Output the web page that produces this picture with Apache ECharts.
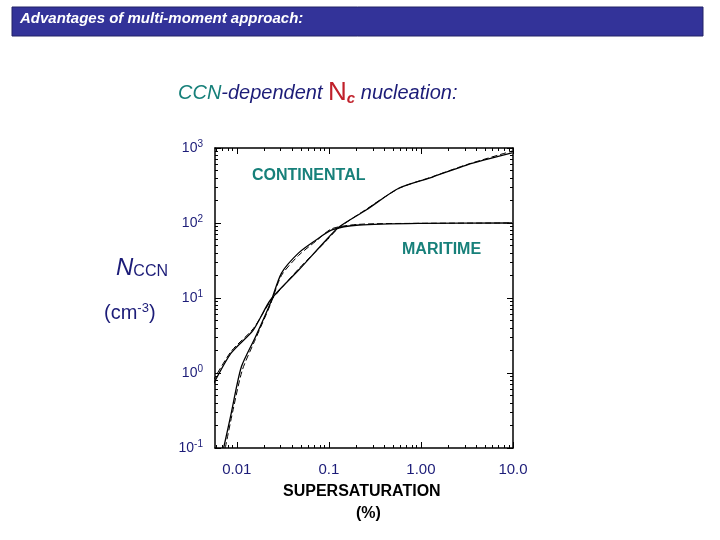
<!DOCTYPE html>
<html>
<head>
<meta charset="UTF-8">
<script src="https://cdn.jsdelivr.net/npm/echarts@6/dist/echarts.min.js"></script>
<style>
  body { margin: 0; background: #fff; }
  #chart { width: 720px; height: 540px; }
</style>
</head>
<body>
<div id="chart"></div>
<script>
  // supersaturation (%) vs N_CCN (cm^-3)
  const xTicks = [0.01, 0.1, 1, 10];
  const xTickLabels = ['0.01', '0.1', '1.00', '10.0'];
  const yTicks = [0.1, 1, 10, 100, 1000];
  const yTickExp = ['-1', '0', '1', '2', '3'];

  const continental = [[0.0055, 0.69], [0.0087, 1.85], [0.0151, 3.74], [0.0232, 9.4], [0.047, 23.6], [0.093, 59], [0.128, 88], [0.254, 149], [0.58, 293], [1.34, 410], [3.14, 593], [9.75, 858]];
  const continentalFit = [[0.0055, 0.78], [0.0087, 1.95], [0.0151, 3.9], [0.0232, 9.0], [0.047, 24.5], [0.093, 57], [0.128, 86], [0.254, 152], [0.58, 290], [1.34, 415], [3.14, 600], [9.75, 910]];
  const maritime = [[0.0072, 0.1], [0.0087, 0.29], [0.0112, 1.2], [0.0159, 3.0], [0.0232, 8.6], [0.0306, 21.5], [0.047, 40], [0.072, 59], [0.108, 81], [0.213, 94], [1, 99], [9.75, 100]];
  const maritimeFit = [[0.0075, 0.1], [0.009, 0.3], [0.0115, 1.1], [0.0159, 2.8], [0.0232, 8.2], [0.0306, 20], [0.047, 37], [0.072, 57], [0.108, 84], [0.213, 96], [1, 99], [9.75, 100]];

  const navy = '#1c1c78';
  const teal = '#17807a';

  const chart = echarts.init(document.getElementById('chart'));

  const axisCommon = {
    type: 'log',
    logBase: 10,
    axisLine: { show: true, lineStyle: { color: '#000', width: 1.5 } },
    axisTick: { show: true, inside: true, length: 6, lineStyle: { color: '#000' } },
    minorTick: { show: true, splitNumber: 9, length: 3, lineStyle: { color: '#000' } },
    splitLine: { show: false }
  };

  chart.setOption({
    animation: false,
    grid: { left: 215, right: 207, top: 148, bottom: 92 },
    xAxis: [
      Object.assign({}, axisCommon, {
        min: 0.0058, max: 10, position: 'bottom',
        axisTick: Object.assign({}, axisCommon.axisTick, { customValues: xTicks }),
        axisLabel: {
          customValues: xTicks, margin: 14, color: navy, fontSize: 15,
          fontFamily: 'Liberation Sans, Arial',
          formatter: v => xTickLabels[xTicks.findIndex(t => Math.abs(Math.log10(t) - Math.log10(v)) < 0.01)] || ''
        }
      }),
      Object.assign({}, axisCommon, {
        min: 0.0058, max: 10, position: 'top',
        axisTick: Object.assign({}, axisCommon.axisTick, { customValues: xTicks }),
        axisLabel: { show: false }
      })
    ],
    yAxis: [
      Object.assign({}, axisCommon, {
        min: 0.1, max: 1000, position: 'left',
        axisLabel: {
          customValues: yTicks, margin: 12, color: navy, fontSize: 14,
          fontFamily: 'Liberation Sans, Arial',
          formatter: v => '10{s|' + yTickExp[yTicks.findIndex(t => Math.abs(Math.log10(t) - Math.log10(v)) < 0.01)] + '}',
          rich: { s: { fontSize: 10, verticalAlign: 'top', padding: [0, 0, 8, 0], color: navy } }
        }
      }),
      Object.assign({}, axisCommon, {
        min: 0.1, max: 1000, position: 'right',
        axisLabel: { show: false }
      })
    ],
    series: [
      { type: 'line', data: continental, smooth: 0.25, showSymbol: false, lineStyle: { color: '#000', width: 1.3 } },
      { type: 'line', data: continentalFit, smooth: 0.25, showSymbol: false, lineStyle: { color: '#000', width: 1, type: [6, 3] } },
      { type: 'line', data: maritime, smooth: 0.25, showSymbol: false, lineStyle: { color: '#000', width: 1.3 } },
      { type: 'line', data: maritimeFit, smooth: 0.25, showSymbol: false, lineStyle: { color: '#000', width: 1, type: [6, 3] } }
    ],
    graphic: [
      { type: 'rect', shape: { x: 12, y: 7, width: 691, height: 29 }, style: { fill: '#333399', stroke: '#222266' } },
      { type: 'text', left: 20, top: 11, style: { text: 'Advantages of multi-moment approach:', fill: '#fff', font: 'italic bold 15px Liberation Sans, Arial' } },
      {
        type: 'text', left: 178, top: 80,
        style: {
          text: '{t|CCN}{b|-dependent }{n|N}{c|c}{b| nucleation:}',
          rich: {
            t: { fill: teal, font: 'italic 20px Liberation Sans, Arial' },
            b: { fill: navy, font: 'italic 20px Liberation Sans, Arial' },
            n: { fill: '#c0202a', font: '26px Liberation Sans, Arial' },
            c: { fill: '#c0202a', font: 'italic bold 15px Liberation Sans, Arial', padding: [12, 0, 0, 0] }
          }
        }
      },
      { type: 'text', left: 252, top: 168, style: { text: 'CONTINENTAL', fill: teal, font: 'bold 16px Liberation Sans, Arial' } },
      { type: 'text', left: 402, top: 242, style: { text: 'MARITIME', fill: teal, font: 'bold 16px Liberation Sans, Arial' } },
      {
        type: 'text', left: 116, top: 256,
        style: {
          text: '{n|N}{s|CCN}',
          rich: {
            n: { fill: navy, font: 'italic 24px Liberation Sans, Arial' },
            s: { fill: navy, font: '16px Liberation Sans, Arial', padding: [8, 0, 0, 0] }
          }
        }
      },
      {
        type: 'text', left: 104, top: 302,
        style: {
          text: '(cm{s|-3})',
          fill: navy, font: '20px Liberation Sans, Arial',
          rich: { s: { fill: navy, font: '13px Liberation Sans, Arial', padding: [0, 0, 10, 0] } }
        }
      },
      { type: 'text', left: 283, top: 484, style: { text: 'SUPERSATURATION', fill: '#000', font: 'bold 16px Liberation Sans, Arial' } },
      { type: 'text', left: 356, top: 506, style: { text: '(%)', fill: '#000', font: 'bold 16px Liberation Sans, Arial' } }
    ]
  });
</script>
</body>
</html>
